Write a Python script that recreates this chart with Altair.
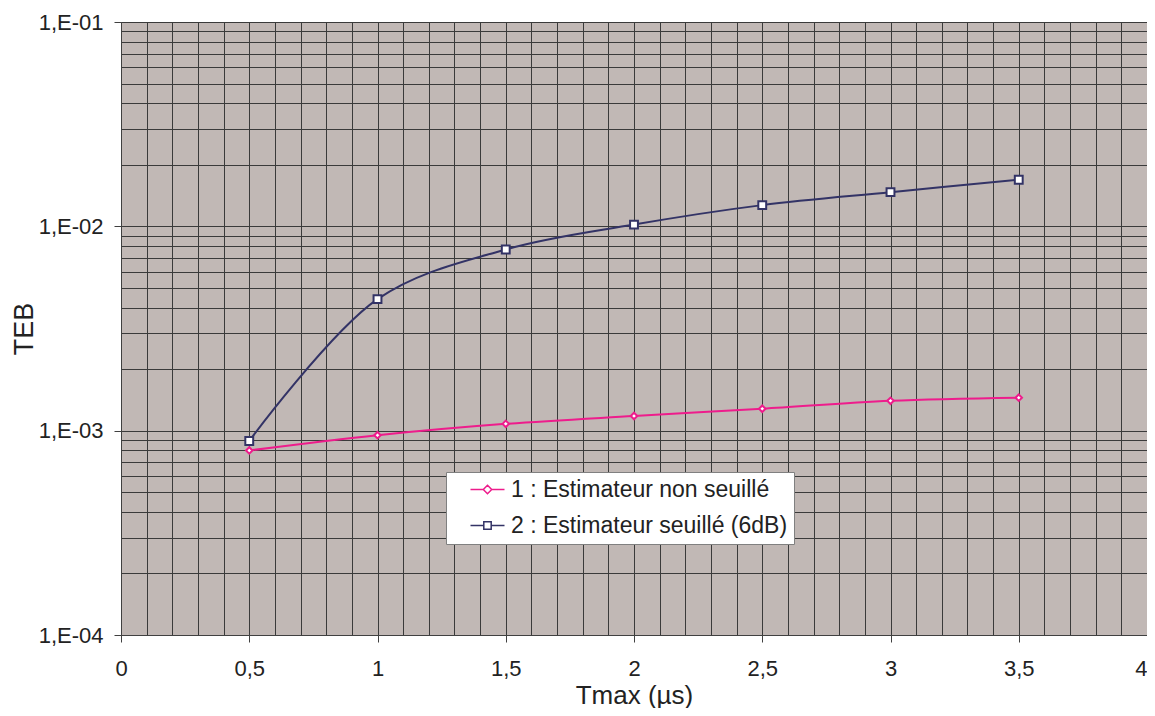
import altair as alt
import pandas as pd

# Data
T = [0.5, 1.0, 1.5, 2.0, 2.5, 3.0, 3.5]
teb_non_seuille = [8.0e-4, 9.5e-4, 1.08e-3, 1.18e-3, 1.28e-3, 1.40e-3, 1.45e-3]
teb_seuille = [8.9e-4, 4.4e-3, 7.7e-3, 1.02e-2, 1.27e-2, 1.47e-2, 1.69e-2]
series_names = ["1 : Estimateur non seuillé", "2 : Estimateur seuillé (6dB)"]
series_colors = ["#EE1C8C", "#333366"]

# Axis tick / grid positions
x_ticks = [round(i * 0.1, 1) for i in range(41)]
y_ticks = [k * 10.0 ** e for e in range(-4, -1) for k in range(1, 10)] + [0.1]

df = pd.DataFrame({
    "T": T * 2,
    "TEB": teb_non_seuille + teb_seuille,
    "serie": [series_names[0]] * len(T) + [series_names[1]] * len(T),
})

FONT = "Liberation Sans"

y_dec = "abs(log(datum.value)/LN10 - round(log(datum.value)/LN10)) < 1e-6"
x_half = "abs(datum.value*2 - round(datum.value*2)) < 1e-6"

x_enc = alt.X(
    "T:Q",
    scale=alt.Scale(domain=[0, 4], nice=False, zero=False),
    axis=alt.Axis(
        values=x_ticks,
        title="Tmax (µs)",
        labelExpr=f"{x_half} ? replace(format(datum.value, '~g'), '.', ',') : ''",
        labelOverlap=False,
        labelFontSize=22,
        labelAlign={"condition": {"test": "datum.value > 3.99", "value": "right"},
                    "value": "center"},
        tickOpacity={"condition": {"test": x_half, "value": 1}, "value": 0},
        tickSize=7,
        labelPadding=16,
        titleFontSize=26,
        titleY=68,
        titleBaseline="alphabetic",
    ),
)
y_enc = alt.Y(
    "TEB:Q",
    scale=alt.Scale(type="log", domain=[1e-4, 1e-1], nice=False),
    axis=alt.Axis(
        values=y_ticks,
        title="TEB",
        labelExpr=f"{y_dec} ? '1,E-0' + (-round(log(datum.value)/LN10)) : ''",
        labelOverlap=False,
        labelFontSize=22,
        tickOpacity={"condition": {"test": y_dec, "value": 1}, "value": 0},
        tickSize=7,
        labelPadding=11,
        titleFontSize=27,
        titleX=-89,
        titleY=306.5,
        titleAngle=270,
        titleAlign="center",
        titleBaseline="alphabetic",
    ),
)

base = alt.Chart(df)

layers = []
markers = ["diamond", "square"]
sizes = [42, 62]
for name, col in zip(series_names, series_colors):
    layers.append(
        base.transform_filter(alt.datum.serie == name)
        .mark_line(interpolate="catmull-rom", color=col, strokeWidth=2)
        .encode(x=x_enc, y=y_enc)
    )
for name, col, shp, sz in zip(series_names, series_colors, markers, sizes):
    layers.append(
        base.transform_filter(alt.datum.serie == name)
        .mark_point(shape=shp, filled=True, fill="white", stroke=col,
                    strokeWidth=2, size=sz, opacity=1)
        .encode(x=x_enc, y=y_enc)
    )

legend_paths = [
    "M-1.7,0L-0.42,0M0.42,0L1.7,0M0,-0.42L0.42,0L0,0.42L-0.42,0Z",
    "M-1.7,0L-0.37,0M0.37,0L1.7,0M-0.37,-0.37L0.37,-0.37L0.37,0.37L-0.37,0.37Z",
]
lab_expr = "datum.label + '\u00a0\u00a0'"
legend_layer = (
    base.transform_filter("false")
    .mark_point(filled=True, fill="white", strokeWidth=1.6, opacity=1)
    .encode(
        x=x_enc,
        y=y_enc,
        stroke=alt.Stroke("serie:N", title=None,
                          scale=alt.Scale(domain=series_names, range=series_colors),
                          legend=alt.Legend(labelExpr=lab_expr)),
        shape=alt.Shape("serie:N", title=None,
                        scale=alt.Scale(domain=series_names, range=legend_paths),
                        legend=alt.Legend(labelExpr=lab_expr)),
    )
)
layers.append(legend_layer)

chart = (
    alt.layer(*layers)
    .properties(
        width=1026,
        height=613,
        autosize=alt.AutoSizeParams(type="none"),
        padding={"left": 113, "top": 14, "right": 0, "bottom": 73},
        background="white",
    )
    .configure_view(fill="#C1B8B5", stroke="#808080", strokeWidth=1)
    .configure_axis(
        grid=True,
        gridColor="#3A3A3A",
        gridWidth=1,
        gridOpacity=1,
        domainColor="#404040",
        tickColor="#404040",
        labelFont=FONT,
        titleFont=FONT,
        labelColor="#222222",
        titleColor="#222222",
        titleFontWeight="normal",
    )
    .configure_legend(
        orient="none",
        legendX=325,
        legendY=450,
        fillColor="white",
        strokeColor="#808080",
        padding=6,
        labelFont=FONT,
        labelFontSize=23,
        labelColor="#222222",
        symbolSize=400,
        symbolOffset=24,
        rowPadding=12,
        labelOffset=12,
        labelLimit=500,
    )
)

chart.save("out.html", embed_options={"renderer": "svg", "actions": False})
